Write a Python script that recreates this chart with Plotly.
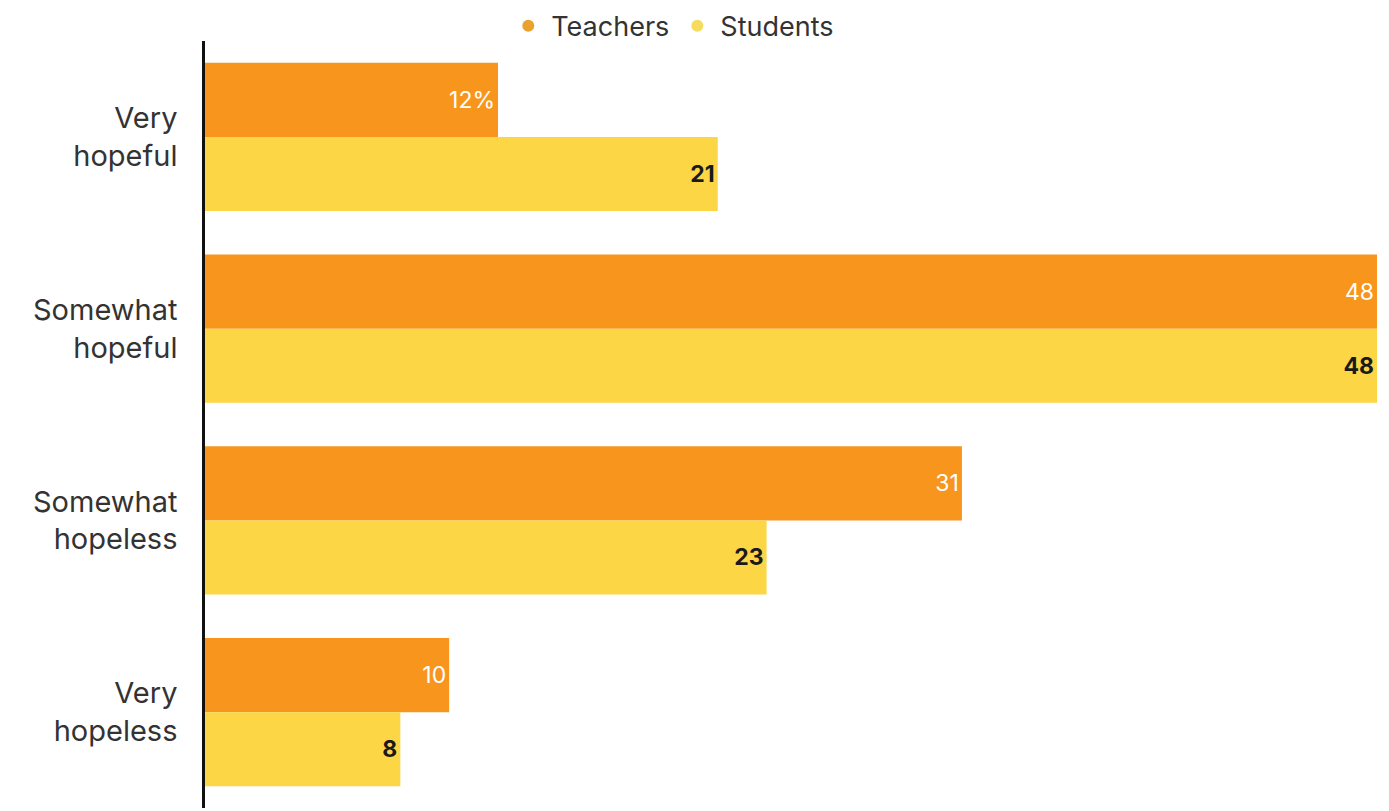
import plotly.graph_objects as go

categories = ["Very<br>hopeful", "Somewhat<br>hopeful", "Somewhat<br>hopeless", "Very<br>hopeless"]
teachers = [12, 48, 31, 10]
students = [21, 48, 23, 8]
teacher_labels = ["12%", "48", "31", "10"]
student_labels = ["21", "48", "23", "8"]

TEACH_COLOR = "#F7951C"
STUD_COLOR = "#FCD645"
FONT = "Inter, Lato, sans-serif"

fig = go.Figure()

fig.add_trace(go.Bar(
    y=categories, x=teachers, orientation="h", name="Teachers",
    marker=dict(color=TEACH_COLOR, line=dict(width=0)),
    text=teacher_labels, textposition="inside", insidetextanchor="end",
    textfont=dict(color="white", size=23, family=FONT),
    showlegend=False, hoverinfo="x+y",
))
fig.add_trace(go.Bar(
    y=categories, x=students, orientation="h", name="Students",
    marker=dict(color=STUD_COLOR, line=dict(width=0)),
    text=student_labels, textposition="inside", insidetextanchor="end",
    textfont=dict(color="#1a1a1a", size=23, family=FONT, weight="bold"),
    showlegend=False, hoverinfo="x+y",
))

# legend entries with round markers
fig.add_trace(go.Scatter(x=[None], y=[None], mode="markers", name="Teachers",
                         marker=dict(color="#E9A22B", size=19, symbol="circle")))
fig.add_trace(go.Scatter(x=[None], y=[None], mode="markers", name="Students",
                         marker=dict(color="#F6DC5E", size=19, symbol="circle")))

fig.update_layout(
    width=1389, height=811,
    margin=dict(l=205, r=12, t=41, b=3, autoexpand=False),
    paper_bgcolor="white", plot_bgcolor="white",
    barmode="group", bargap=0.228, bargroupgap=0,
    font=dict(family=FONT, color="#333333"),
    legend=dict(orientation="h", xref="container", yref="container",
                x=0.484, xanchor="center", y=0.998, yanchor="top",
                font=dict(size=27, color="#333333"), itemsizing="constant",
                itemwidth=36),
    uniformtext=dict(mode="show", minsize=10),
)
fig.update_xaxes(range=[0, 48], visible=False, showgrid=False, zeroline=False)
fig.update_yaxes(autorange="reversed", showline=True, linecolor="#111111", linewidth=2.5,
                 showgrid=False, zeroline=False, ticks="", ticklabelstandoff=19,
                 tickfont=dict(size=29, color="#333333", family=FONT))

fig.write_html("out.html")
